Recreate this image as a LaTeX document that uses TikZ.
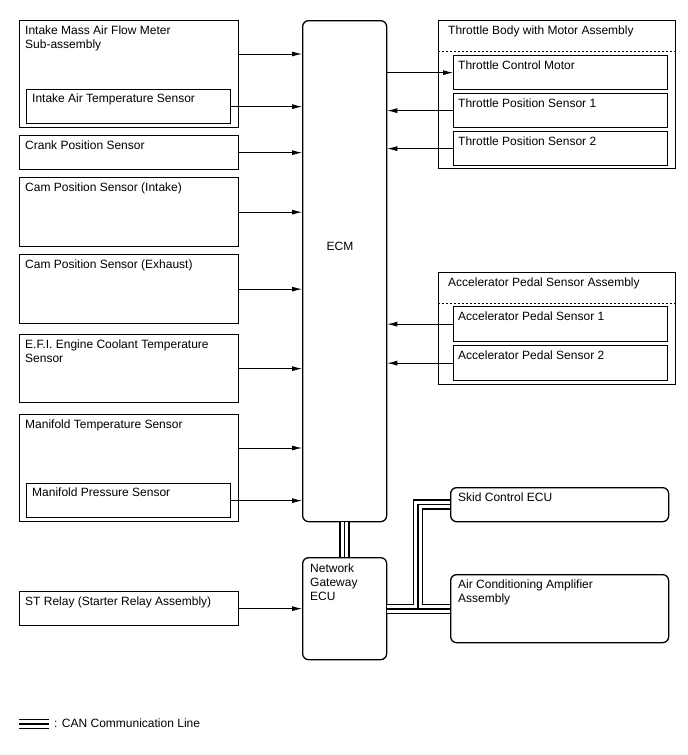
\documentclass[tikz,border=0pt]{standalone}
\usepackage{fontspec}
\setmainfont{Liberation Sans}
\usetikzlibrary{positioning,calc,arrows.meta}
\newcommand{\canpaths}[1]{%
  \draw[#1] (ecm.south) -- (gw.north);
  \draw[#1] (gw.east |- canj) -- (ac.west |- canj);
  \draw[#1] (skid.west) -| (canj);
  \draw[#1] (leg) -- ++(30,0);}

\begin{document}
\begin{tikzpicture}[x=1pt,y=-1pt,font=\fontsize{12}{14}\selectfont,>={Latex[length=10pt,width=5pt]},
    box/.style={draw=black,line width=1.3pt,anchor=north west,inner sep=0pt,fill=white},
    lbox/.style={box,minimum width=219},ibox/.style={box,minimum width=204,minimum height=34},
    rbox/.style={box,minimum width=214},ebox/.style={box,rounded corners=6pt},
    txt/.style={anchor=north west,inner sep=0pt,align=left},
    sig/.style={->,line width=0.8pt},
    sep/.style={line width=0.8pt,dash pattern=on 2pt off 2pt}]
  \useasboundingbox (0,0) rectangle (688,755);
  \node[lbox,minimum height=107] (imaf) at (19,20) {};
  \node[ibox] (iat) at (26,89) {};
  \node[lbox,minimum height=34] (ckp) at (19,135) {};
  \node[lbox,minimum height=69] (cmi) at (19,177) {};
  \node[lbox,minimum height=69] (cme) at (19,254) {};
  \node[lbox,minimum height=68] (ect) at (19,334) {};
  \node[lbox,minimum height=107] (mtp) at (19,414) {};
  \node[ibox] (map) at (26,483) {};
  \node[lbox,minimum height=34] (str) at (19,591) {};
  \node[ebox,minimum width=84,minimum height=501] (ecm) at (302,20) {};
  \node[ebox,minimum width=84,minimum height=102] (gw) at (302,557) {};
  \node[box,minimum width=237,minimum height=148] (tb) at (438,20) {};
  \node[rbox,minimum height=34] (tcm) at (453,55) {};
  \node[rbox,minimum height=34] (tps1) at (453,93) {};
  \node[rbox,minimum height=34] (tps2) at (453,131) {};
  \node[box,minimum width=237,minimum height=112] (aps) at (438,272) {};
  \node[rbox,minimum height=35] (aps1) at (453,306) {};
  \node[rbox,minimum height=35] (aps2) at (453,345) {};
  \node[ebox,minimum width=218,minimum height=34] (skid) at (450,487) {};
  \node[ebox,minimum width=218,minimum height=68] (ac) at (450,574) {};
  \draw[sep] ($(tb.north west)+(0,31)$) -- ($(tb.north east)+(0,31)$);
  \draw[sep] ($(aps.north west)+(0,31)$) -- ($(aps.north east)+(0,31)$);
  \node[txt] (imaft) at ($(imaf.north west)+(6,6)$) {Intake Mass Air Flow Meter\\Sub-assembly};
  \node[txt] (iatt) at ($(iat.north west)+(6,5)$) {Intake Air Temperature Sensor};
  \node[txt] (ckpt) at ($(ckp.north west)+(6,6)$) {Crank Position Sensor};
  \node[txt] (cmit) at ($(cmi.north west)+(6,6)$) {Cam Position Sensor (Intake)};
  \node[txt] (cmet) at ($(cme.north west)+(6,6)$) {Cam Position Sensor (Exhaust)};
  \node[txt] (ectt) at ($(ect.north west)+(6,6)$) {E.F.I. Engine Coolant Temperature\\Sensor};
  \node[txt] (mtpt) at ($(mtp.north west)+(6,6)$) {Manifold Temperature Sensor};
  \node[txt] (mapt) at ($(map.north west)+(6,5)$) {Manifold Pressure Sensor};
  \node[txt] (strt) at ($(str.north west)+(6,6)$) {ST Relay (Starter Relay Assembly)};
  \node (ecmt) at (340,246) {ECM};
  \node[txt] (gwt) at ($(gw.north west)+(8,7)$) {Network\\Gateway\\ECU};
  \node[txt] (tbt) at ($(tb.north west)+(10,6)$) {Throttle Body with Motor Assembly};
  \node[txt] (tcmt) at ($(tcm.north west)+(5,6)$) {Throttle Control Motor};
  \node[txt] (tps1t) at ($(tps1.north west)+(5,6)$) {Throttle Position Sensor 1};
  \node[txt] (tps2t) at ($(tps2.north west)+(5,6)$) {Throttle Position Sensor 2};
  \node[txt] (apst) at ($(aps.north west)+(10,6)$) {Accelerator Pedal Sensor Assembly};
  \node[txt] (aps1t) at ($(aps1.north west)+(5,6)$) {Accelerator Pedal Sensor 1};
  \node[txt] (aps2t) at ($(aps2.north west)+(5,6)$) {Accelerator Pedal Sensor 2};
  \node[txt] (skidt) at ($(skid.north west)+(8,6)$) {Skid Control ECU};
  \node[txt] (act) at ($(ac.north west)+(8,6)$) {Air Conditioning Amplifier\\Assembly};
  \node[txt] (legt) at (54,719) {: CAN Communication Line};
  \draw[sig] ($(imaf.north east)+(0,34)$) coordinate (s1) -- (s1 -| ecm.west);
  \draw[sig] ($(mtp.north east)+(0,34)$) coordinate (s2) -- (s2 -| ecm.west);
  \foreach \n in {iat,ckp,cmi,cme,ect,map} \draw[sig] (\n) -- (\n -| ecm.west);
  \draw[sig] (str) -- (str -| gw.west);
  \draw[sig] (tcm -| ecm.east) -- (tcm);
  \foreach \n in {tps1,tps2,aps1,aps2} \draw[sig] (\n) -- (\n -| ecm.east);
  \coordinate (canj) at (418,609);
  \coordinate (leg) at (19,724);
  \canpaths{line width=10.5pt}
  \canpaths{white,line width=7.3pt}
  \canpaths{line width=1.6pt}
\end{tikzpicture}
\end{document}
